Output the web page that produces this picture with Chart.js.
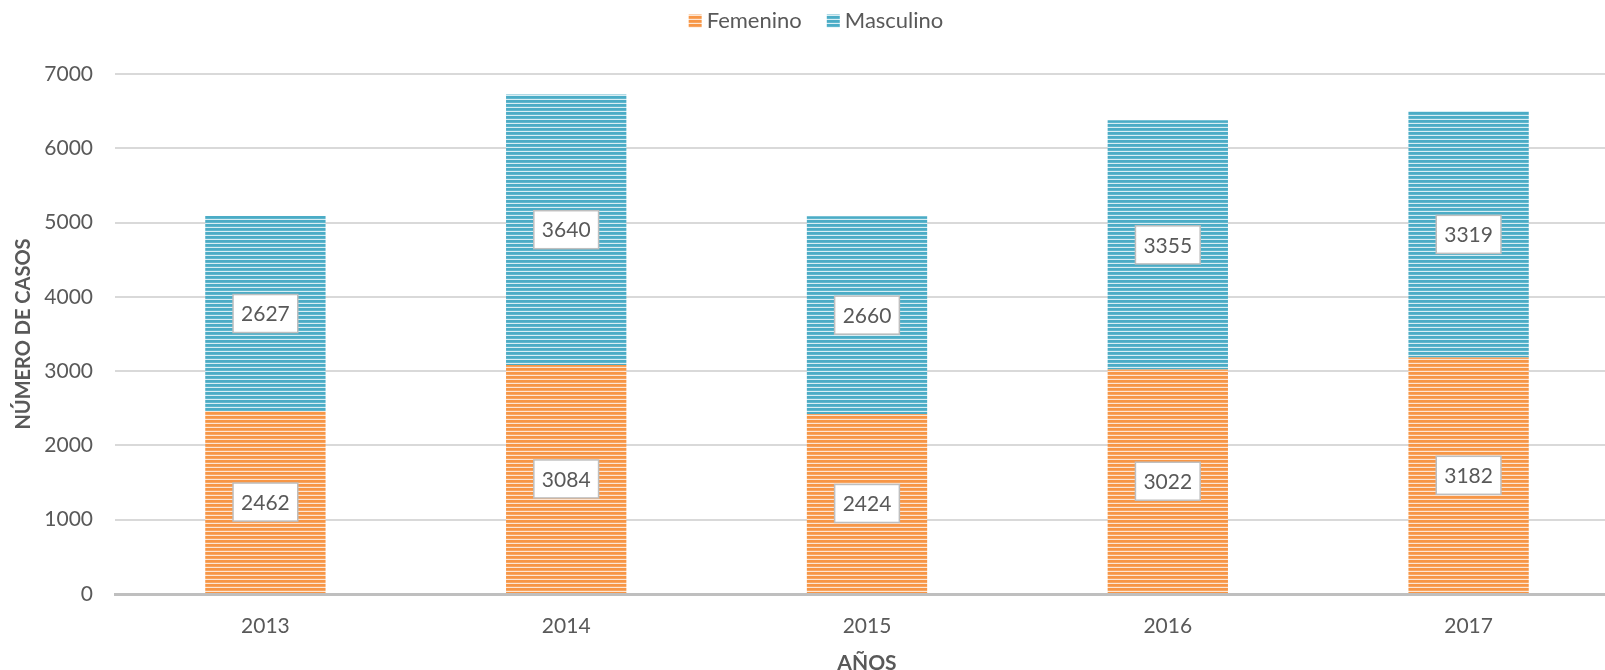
<!DOCTYPE html>
<html><head><meta charset="utf-8">
<script src="https://cdn.jsdelivr.net/npm/chart.js@4/dist/chart.umd.min.js"></script>
<style>
html,body{margin:0;padding:0;overflow:hidden;background:#fff;width:1605px;height:670px}
#wrap{width:1620px;height:670px}
</style></head>
<body><div id="wrap"><canvas id="c" width="1620" height="670"></canvas></div>
<script>
const categories = ['2013', '2014', '2015', '2016', '2017'];
const femenino = [2462, 3084, 2424, 3022, 3182];
const masculino = [2627, 3640, 2660, 3355, 3319];
const seriesNames = ['Femenino', 'Masculino'];
const yAxisTitle = 'NÚMERO DE CASOS';
const xAxisTitle = 'AÑOS';

const FONT = 'Lato, "Open Sans", sans-serif';
const TXT = '#595959';

function stripes(color, mid, light) {
  const c = document.createElement('canvas');
  c.width = 8; c.height = 4;
  const g = c.getContext('2d');
  g.fillStyle = color; g.fillRect(0, 0, 8, 4);
  g.fillStyle = mid; g.fillRect(0, 2, 8, 1);
  g.fillStyle = light; g.fillRect(0, 3, 8, 1);
  return g.createPattern(c, 'repeat');
}
const ctx = document.getElementById('c').getContext('2d');
const orangeP = stripes('#f79646', '#f8a560', '#fde6d4');
const blueP = stripes('#4bacc6', '#5fb6cd', '#d8eef4');

const customLegend = {
  id: 'customLegend',
  afterDraw(chart) {
    const c = chart.ctx;
    c.save();
    c.font = '22px ' + FONT;
    c.textBaseline = 'middle';
    const box = 13, gap = 5, sep = 25;
    const items = chart.data.datasets.map(d => ({label: d.label, color: d.backgroundColor, w: c.measureText(d.label).width}));
    let total = 0;
    items.forEach((it, i) => { total += box + gap + it.w + (i < items.length - 1 ? sep : 0); });
    let x = 816 - total / 2;
    const y = 21;
    items.forEach(it => {
      c.fillStyle = it.color;
      c.fillRect(x, y - box / 2, box, box);
      x += box + gap;
      c.fillStyle = TXT;
      c.fillText(it.label, x, y);
      x += it.w + sep;
    });
    c.restore();
  }
};

const valueLabels = {
  id: 'valueLabels',
  afterDatasetsDraw(chart) {
    const c = chart.ctx;
    c.save();
    c.font = '21px ' + FONT;
    c.textAlign = 'center';
    c.textBaseline = 'middle';
    chart.data.datasets.forEach((ds, di) => {
      const meta = chart.getDatasetMeta(di);
      meta.data.forEach((el, i) => {
        const v = ds.data[i];
        const cx = el.x, cy = (el.y + el.base) / 2;
        const txt = String(v);
        const w = c.measureText(txt).width + 16, h = 38;
        c.fillStyle = '#ffffff';
        c.fillRect(cx - w / 2, cy - h / 2, w, h);
        c.strokeStyle = '#bfbfbf';
        c.lineWidth = 1.5;
        c.strokeRect(cx - w / 2, cy - h / 2, w, h);
        c.fillStyle = TXT;
        c.fillText(txt, cx, cy + 1);
      });
    });
    c.restore();
  }
};

new Chart(ctx, {
  type: 'bar',
  data: {
    labels: categories,
    datasets: [
      {label: seriesNames[0], data: femenino, backgroundColor: orangeP, borderWidth: 0},
      {label: seriesNames[1], data: masculino, backgroundColor: blueP, borderWidth: 0}
    ]
  },
  options: {
    responsive: false,
    devicePixelRatio: 1,
    animation: false,
    layout: {padding: {top: 74, right: 1, left: 0, bottom: 0}},
    datasets: {bar: {categoryPercentage: 1, barPercentage: 0.4}},
    plugins: {legend: {display: false}, tooltip: {enabled: false}},
    scales: {
      x: {
        stacked: true,
        grid: {display: false},
        border: {display: true, color: '#bfbfbf', width: 3},
        ticks: {color: TXT, font: {family: FONT, size: 21}, padding: 12},
        title: {display: true, text: xAxisTitle, color: TXT, font: {family: FONT, size: 21, weight: 'bold', lineHeight: 1}, padding: {top: 0, bottom: -4}},
        afterFit(s) { s.height = 76; }
      },
      y: {
        stacked: true,
        min: 0, max: 7000,
        ticks: {stepSize: 1000, color: TXT, font: {family: FONT, size: 21}, padding: 22, callback: v => String(v)},
        grid: {color: '#d9d9d9', lineWidth: 2, drawTicks: false},
        border: {display: false},
        title: {display: true, text: yAxisTitle, color: TXT, font: {family: FONT, size: 20, weight: 'bold'}, padding: {top: 12}},
        afterFit(s) { s.width = 115; }
      }
    }
  },
  plugins: [customLegend, valueLabels]
});
</script>
</body></html>
